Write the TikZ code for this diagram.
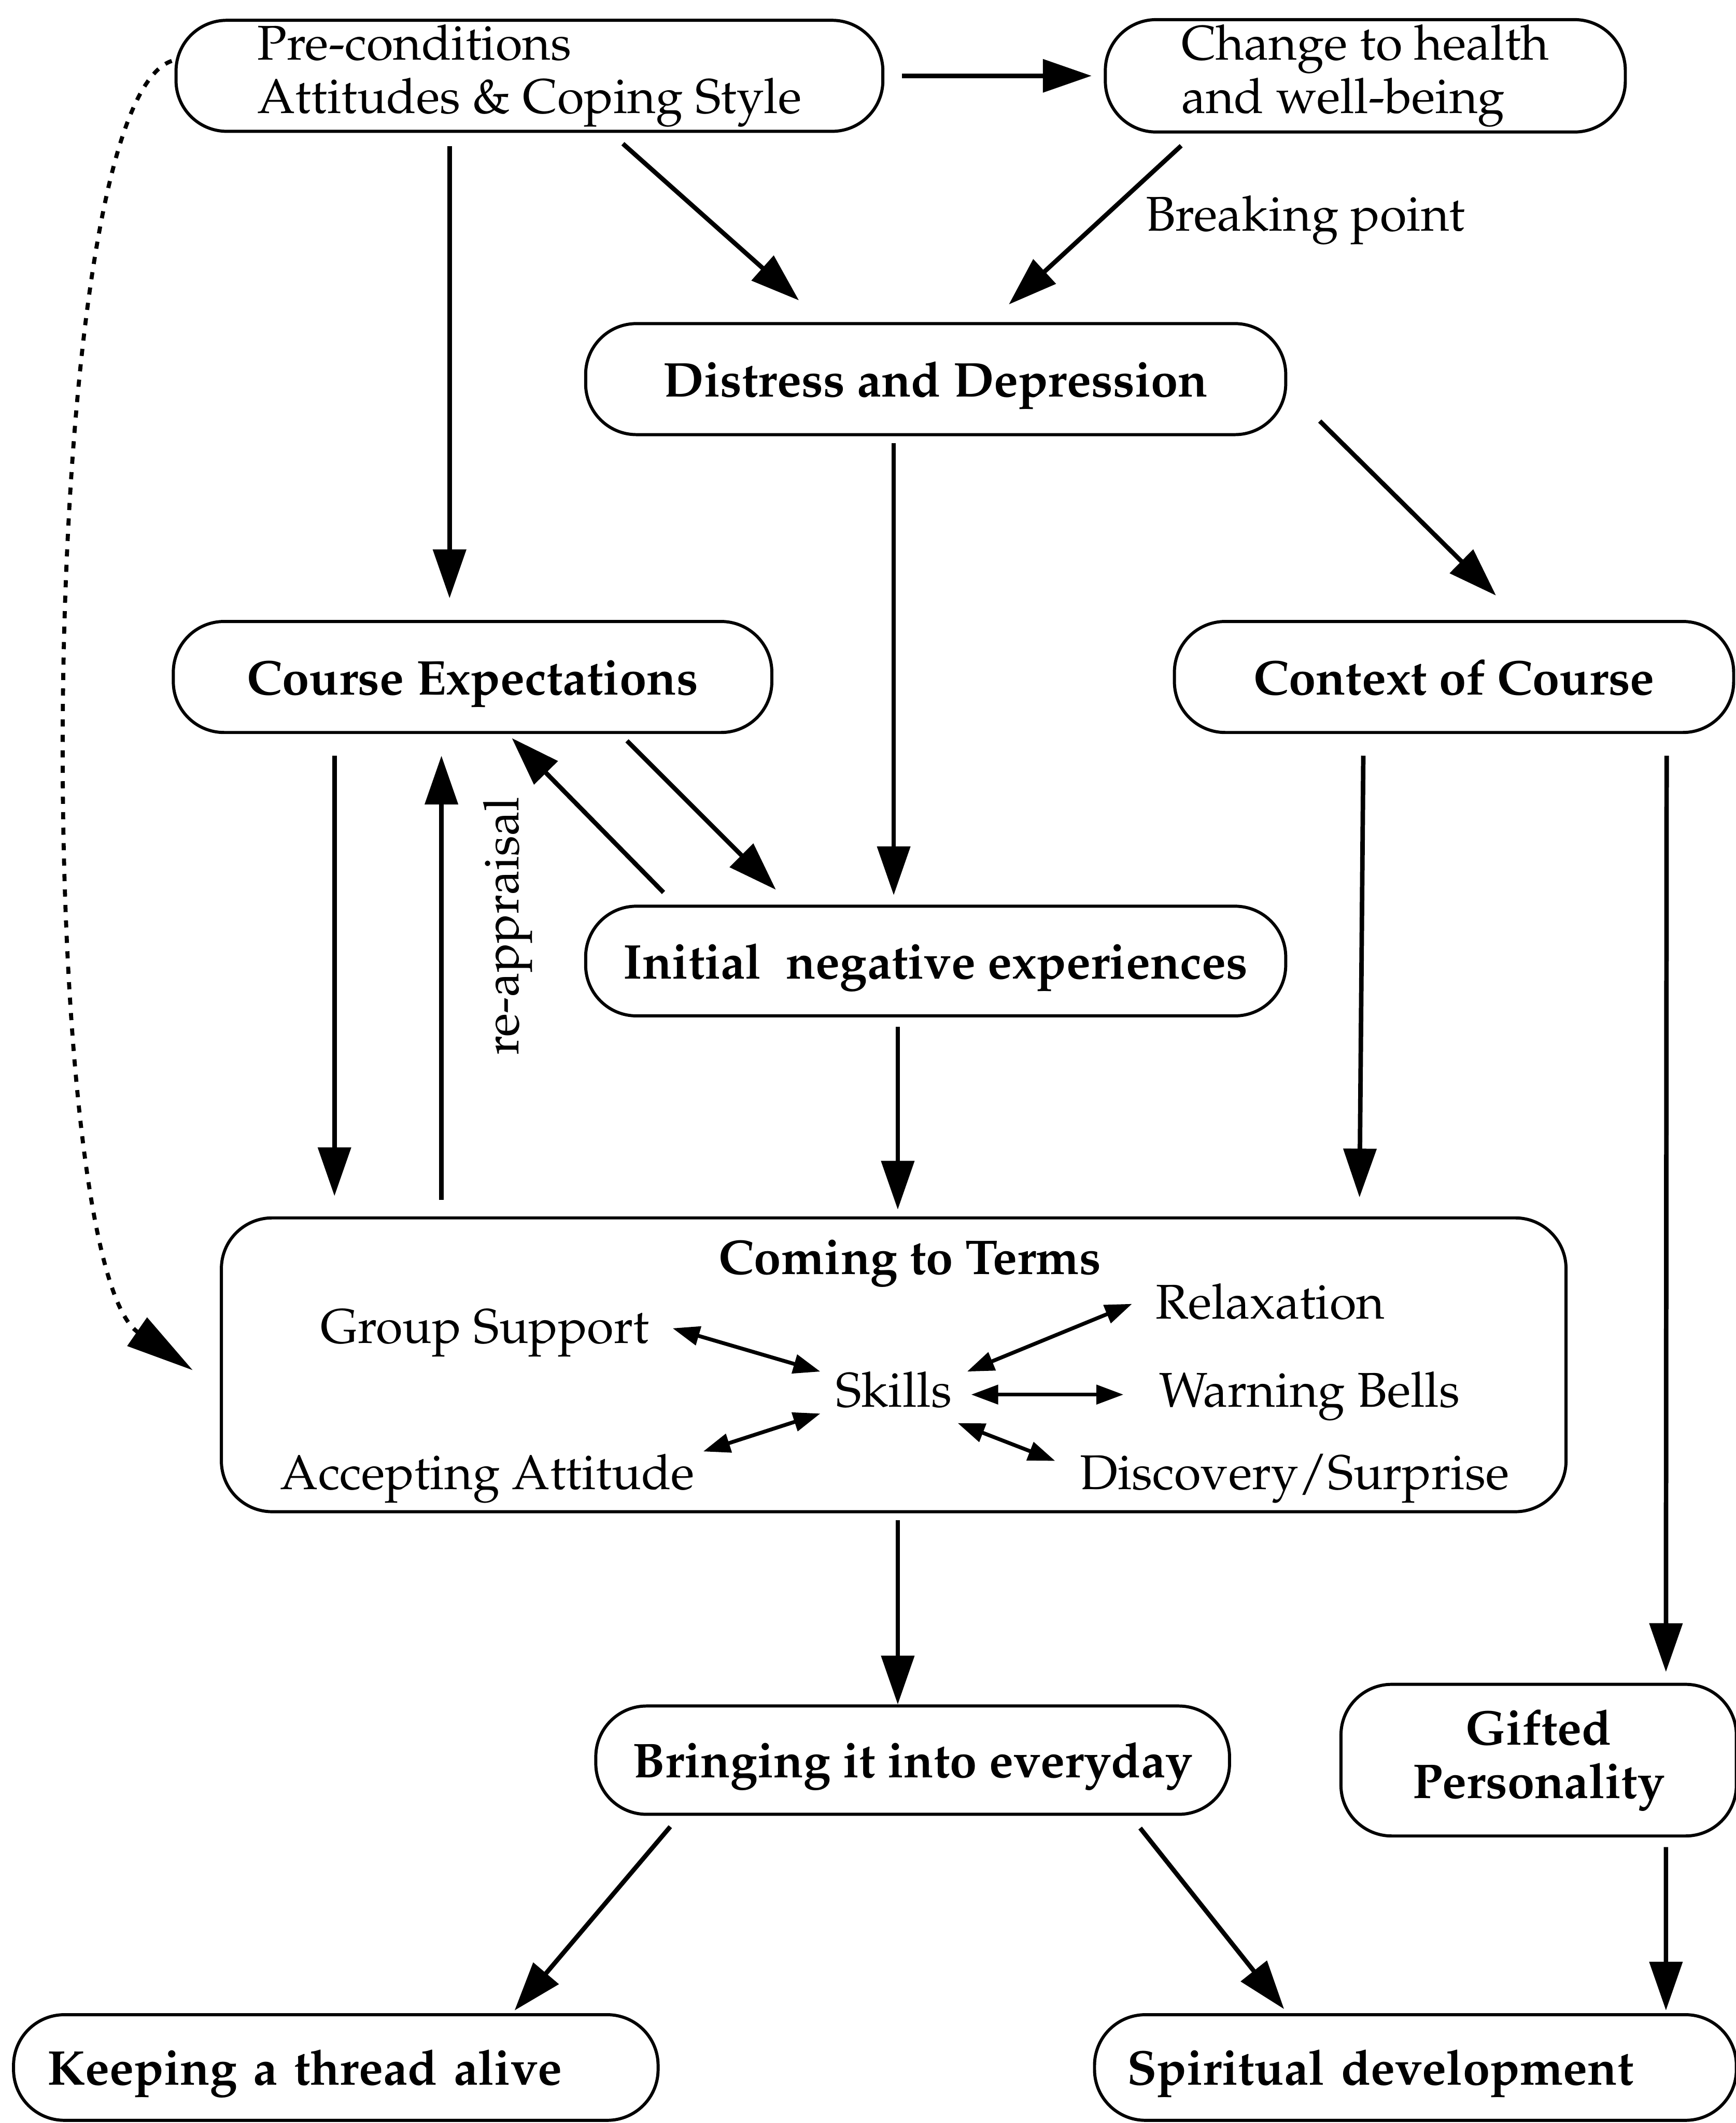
\documentclass[tikz,border=0pt]{standalone}
\usepackage[T1]{fontenc}
\usepackage{mathpazo}
\usepackage{tikz}
\usetikzlibrary{%
  arrows.meta,%
  positioning,%
  calc%
}

\begin{document}
\begin{tikzpicture}[
    x=0.2mm, y=-0.2mm,
    txt/.style={font=\fontsize{20.5}{22.5}\selectfont},
    btxt/.style={font=\fontsize{20.5}{22.5}\selectfont\bfseries},
    box/.style={draw, line width=1.3pt, rounded corners=7.5mm, inner sep=0pt, align=center},
    oneline/.style={text height=16pt, text depth=1.2pt},
    lbl/.style={txt, inner sep=0pt},
    flow/.style={line width=1.9pt, -{Triangle[length=7.2mm,width=4.8mm]}},
    link/.style={line width=1.6pt, {Triangle[length=4mm,width=2.8mm]}-{Triangle[length=4mm,width=2.8mm]}}
]
    \tikzset{loop back/.style={line width=1.7pt, dash pattern=on 3pt off 3.5pt, -{Triangle[length=10mm,width=5mm]}}}
    \useasboundingbox (0,0) rectangle (1282,1568);
    % boxes
    \node[box, txt, align=left, minimum width=104.4mm, minimum height=16.4mm] (pre) at (391,56) {Pre-conditions\\Attitudes \& Coping Style};
    \node[box, txt, align=left, minimum width=76.8mm, minimum height=16.6mm, right=32.4mm of pre] (chg) {Change to health\\and well-being};
    \node[box, btxt, oneline, minimum width=103.4mm, minimum height=16.4mm] (dis) at (691,280) {Distress and Depression};
    \node[box, btxt, oneline, minimum width=88.4mm, minimum height=16.4mm] (cexp) at (349,500) {Course Expectations};
    \node[box, btxt, oneline, minimum width=82.6mm, minimum height=16.4mm, right=59mm of cexp] (ctx) {Context of Course};
    \node[box, btxt, oneline, minimum width=103.4mm, minimum height=16.2mm, below=69.2mm of dis] (init) {Initial~ negative experiences};
    \node[box, minimum width=198.6mm, minimum height=43.4mm] (come) at (660,1008) {};
    \node[box, btxt, oneline, minimum width=93.6mm, minimum height=16mm] (bring) at (674,1300) {Bringing it into everyday};
    \node[box, btxt, minimum width=58.4mm, minimum height=22.4mm, right=16mm of bring] (gift) {Gifted\\Personality};
    \node[box, btxt, oneline, text width=85.2mm, align=left, inner xsep=5mm, minimum height=15.6mm] (keep) at (248,1527) {Keeping a thread alive};
    \node[box, btxt, oneline, text width=85.2mm, align=left, inner xsep=4.8mm, minimum height=15.6mm, right=64mm of keep] (spir) {Spiritual development};
    % inside coming to terms
    \node[btxt, anchor=base, inner sep=0pt] (cttl) at (672,941) {Coming to Terms};
    \node[lbl, anchor=base] (gs) at (358,992) {Group Support};
    \node[lbl, anchor=base] (rel) at (938,974) {Relaxation};
    \node[lbl, anchor=base] (sk) at (660,1039) {Skills};
    \node[lbl, anchor=base] (wb) at (967,1039) {Warning Bells};
    \node[lbl, anchor=base] (aa) at (360,1100) {Accepting Attitude};
    \node[lbl, anchor=base] (ds) at (956,1100) {Discovery/Surprise};
    \draw[link] ($(gs.base east)+(17,-11)$) -- ($(sk.base west)+(-11,-26)$);
    \draw[link] ($(sk.base east)+(11,-26)$) -- ($(rel.base west)+(-17,-11)$);
    \draw[link] ($(sk.base east)+(14,-9)$) -- ($(wb.base west)+(-26,-9)$);
    \draw[link] ($(sk.base west)+(-11,5)$) -- ($(aa.base east)+(6,-28)$);
    \draw[link] ($(sk.base east)+(4,12)$) -- ($(ds.base west)+(-18,-21)$);
    % arrows
    \draw[flow] ($(pre.east)+(13,0)$) -- ($(chg.west)+(-9,0)$);
    \draw[flow] ($(pre.south)+(69,8)$) -- ($(dis.north)+(-101,-16)$);
    \draw[flow] ($(chg.south)+(-136,9)$) -- node[lbl, pos=0.47, right=6.4mm] (brk) {Breaking point} ($(dis.north)+(54,-13)$);
    \draw[flow] ($(pre.south)+(-59,10)$) -- ($(cexp.north)+(-17,-16)$);
    \draw[flow] ($(dis.south)+(-31,5)$) -- ($(init.north)+(-31,-7)$);
    \draw[flow] ($(dis.east)+(24,31)$) -- ($(ctx.north)+(31,-18)$);
    \draw[flow] ($(cexp.south)+(-102,16)$) -- ($(come.north)+(-413,-15)$);
    \draw[flow] ($(come.north)+(-334,-12)$) -- ($(cexp.south)+(-23,16)$);
    \node[lbl, rotate=90] (reap) at (375,684) {re-appraisal};
    \draw[flow] ($(init.north)+(-201,-9)$) -- ($(cexp.south)+(29,3)$);
    \draw[flow] ($(cexp.south)+(114,5)$) -- ($(init.north)+(-118,-11)$);
    \draw[flow] ($(init.south)+(-28,7)$) -- ($(come.north)+(3,-5)$);
    \draw[flow] ($(ctx.south)+(-67,16)$) -- ($(come.north)+(344,-14)$);
    \draw[flow] ($(ctx.south)+(157,16)$) -- ($(gift.north)+(94,-8)$);
    \draw[flow] ($(come.south)+(3,5)$) -- ($(bring.north)+(-11,0)$);
    \draw[flow] ($(bring.south)+(-179,8)$) -- ($(keep.north)+(132,-2)$);
    \draw[flow] ($(bring.south)+(168,9)$) -- ($(spir.north)+(-97,-3)$);
    \draw[flow] ($(gift.south)+(94,7)$) -- ($(spir.north)+(185,-2)$);
    \draw[loop back] ($(pre.west)+(-2,-11)$) .. controls (24,80) and (24,930) .. ($(come.west)+(-20,4)$);
\end{tikzpicture}
\end{document}
